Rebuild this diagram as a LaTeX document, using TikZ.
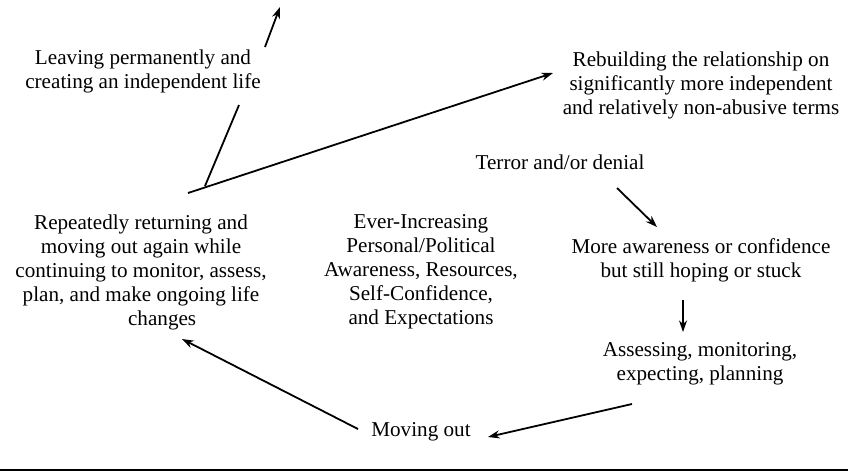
\documentclass[tikz,border=0pt]{standalone}
\usepackage{fontspec}
\setmainfont{Liberation Serif}
\usetikzlibrary{arrows.meta}

\tikzset{
  stage/.style={align=center, inner sep=0pt, anchor=north, font=\fontsize{10}{11.35}\selectfont},
  flow/.style={-{Stealth[length=5.5pt,width=3.8pt]}, line width=0.85pt},
}

\begin{document}
\begin{tikzpicture}[x=0.473pt,y=-0.473pt]
\useasboundingbox (0,0) rectangle (848,472);

% Stages around the cycle
\node[stage] (leave) at (143,49) {Leaving permanently and\\creating an independent life};
\node[stage] (rebuild) at (701,51) {Rebuilding the relationship on\\significantly more independent\\and relatively non-abusive terms};
\node[stage] (terror) at (560,154) {Terror and/or denial};
\node[stage] (aware) at (701,238) {More awareness or confidence\\but still hoping or stuck};
\node[stage] (assess) at (700,342) {Assessing, monitoring,\\expecting, planning};
\node[stage] (moveout) at (421,422) {Moving out};
\node[stage] (repeat) at (141,214) {Repeatedly returning and\\moving out again while\\continuing to monitor, assess,\\plan, and make ongoing life\\\hspace*{20pt}changes};

% Centre of the cycle
\node[stage] (growth) at (421,214) {Ever-Increasing\\Personal/Political\\Awareness, Resources,\\Self-Confidence,\\and Expectations};

% Ends of the connectors
\coordinate (fork) at (188,193);
\coordinate (branch) at (205,186);
\coordinate (leavelow) at (239,105);
\coordinate (leavehigh) at (265,47);
\coordinate (leavetip) at (280,7);
\coordinate (rebuildtip) at (553,73);
\coordinate (terrorout) at (617,188);
\coordinate (awaretip) at (657,227);
\coordinate (awareout) at (683,300);
\coordinate (assesstip) at (683,332);
\coordinate (assessout) at (632,404);
\coordinate (moveouttip) at (488,437);
\coordinate (moveoutout) at (358,429);
\coordinate (repeattip) at (182,339);

% Connectors
\draw[flow] (fork) -- (rebuildtip);
\draw[line width=0.85pt] (branch) -- (leavelow);
\draw[flow] (leavehigh) -- (leavetip);
\draw[flow] (terrorout) -- (awaretip);
\draw[flow] (awareout) -- (assesstip);
\draw[flow] (assessout) -- (moveouttip);
\draw[flow] (moveoutout) -- (repeattip);

% Rule under the figure
\draw[line width=1pt] (0,470) -- (848,470);

\end{tikzpicture}
\end{document}
